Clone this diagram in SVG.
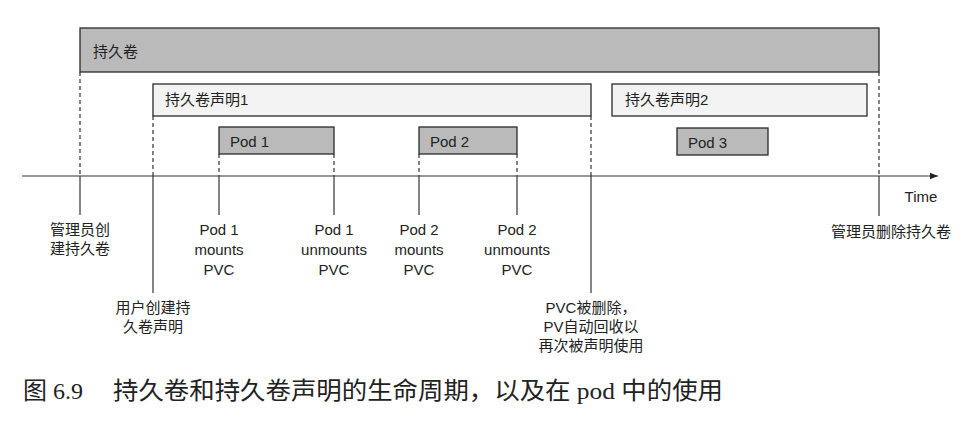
<svg xmlns="http://www.w3.org/2000/svg" width="975" height="423" viewBox="0 0 975 423">
<style>
text{font-family:"Liberation Sans","Noto Sans CJK SC",sans-serif;font-size:15px;fill:#222}
.dark{fill:#bababa;stroke:#2a2a2a;stroke-width:1.3}
.light{fill:#f3f3f3;stroke:#2a2a2a;stroke-width:1.3}
.dash{stroke:#333;stroke-width:1.2;stroke-dasharray:4,3;fill:none}
.solid{stroke:#333;stroke-width:1.2;fill:none}
.c{text-anchor:middle}
.cap{font-family:"Liberation Serif","Noto Sans CJK SC",serif;font-size:24px;fill:#222}
</style>
<defs>
<marker id="arr" viewBox="0 0 10 10" refX="10" refY="5" markerWidth="10" markerHeight="8" markerUnits="userSpaceOnUse" orient="auto">
<path d="M0,1 L10,5 L0,9 z" fill="#222"/>
</marker>
</defs>
<rect width="975" height="423" fill="#fff"/>
<g id="pv"><rect class="dark" x="80" y="28" width="799" height="44"/><text x="93" y="57">持久卷</text></g>
<g id="pvc1"><rect class="light" x="153" y="84" width="438" height="32"/><text x="165" y="105">持久卷声明1</text></g>
<g id="pvc2"><rect class="light" x="612" y="84" width="255" height="32"/><text x="625" y="105">持久卷声明2</text></g>
<g id="pod1"><rect class="dark" x="219" y="127" width="115" height="27"/><text x="230" y="147">Pod 1</text></g>
<g id="pod2"><rect class="dark" x="419" y="127" width="98" height="27"/><text x="430" y="147">Pod 2</text></g>
<g id="pod3"><rect class="dark" x="677" y="128" width="91" height="27"/><text x="688" y="148">Pod 3</text></g>
<g id="connectors">
<line class="solid" x1="22" y1="176" x2="938" y2="176" marker-end="url(#arr)"/>
<line class="dash" x1="80" y1="72" x2="80" y2="176"/><line class="solid" x1="80" y1="176" x2="80" y2="215"/>
<line class="dash" x1="153" y1="116" x2="153" y2="176"/><line class="solid" x1="153" y1="176" x2="153" y2="293"/>
<line class="dash" x1="219" y1="154" x2="219" y2="176"/><line class="solid" x1="219" y1="176" x2="219" y2="215"/>
<line class="dash" x1="334" y1="154" x2="334" y2="176"/><line class="solid" x1="334" y1="176" x2="334" y2="215"/>
<line class="dash" x1="419" y1="154" x2="419" y2="176"/><line class="solid" x1="419" y1="176" x2="419" y2="215"/>
<line class="dash" x1="517" y1="154" x2="517" y2="176"/><line class="solid" x1="517" y1="176" x2="517" y2="215"/>
<line class="dash" x1="591" y1="116" x2="591" y2="176"/><line class="solid" x1="591" y1="176" x2="591" y2="293"/>
<line class="dash" x1="879" y1="72" x2="879" y2="176"/><line class="solid" x1="879" y1="176" x2="879" y2="216"/>
</g>
<g id="labels">
<text class="c" x="921" y="202">Time</text>
<text class="c" x="80" y="235">管理员创</text><text class="c" x="80" y="254">建持久卷</text>
<text class="c" x="219" y="235">Pod 1</text><text class="c" x="219" y="255">mounts</text><text class="c" x="219" y="275">PVC</text>
<text class="c" x="334" y="235">Pod 1</text><text class="c" x="334" y="255">unmounts</text><text class="c" x="334" y="275">PVC</text>
<text class="c" x="419" y="235">Pod 2</text><text class="c" x="419" y="255">mounts</text><text class="c" x="419" y="275">PVC</text>
<text class="c" x="517" y="235">Pod 2</text><text class="c" x="517" y="255">unmounts</text><text class="c" x="517" y="275">PVC</text>
<text class="c" x="153" y="313">用户创建持</text><text class="c" x="153" y="332">久卷声明</text>
<text class="c" x="591" y="313">PVC被删除，</text><text class="c" x="591" y="332">PV自动回收以</text><text class="c" x="591" y="351">再次被声明使用</text>
<text class="c" x="891" y="237">管理员删除持久卷</text>
</g>
<g id="caption">
<text class="cap" x="23" y="399">图 6.9</text>
<text class="cap" x="113" y="399" textLength="610" lengthAdjust="spacingAndGlyphs">持久卷和持久卷声明的生命周期，以及在 pod 中的使用</text>
</g>
</svg>
